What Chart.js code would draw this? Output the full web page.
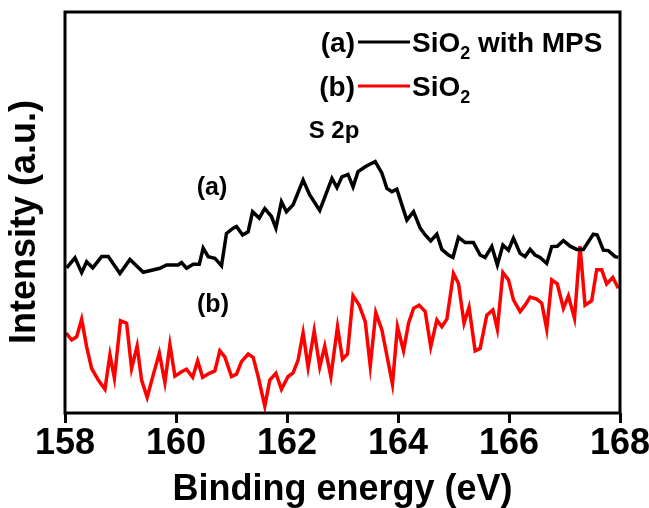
<!DOCTYPE html>
<html>
<head>
<meta charset="utf-8">
<style>
  html, body { margin: 0; padding: 0; background: #fff; }
</style>
<script src="https://cdn.jsdelivr.net/npm/chart.js@4.4.0/dist/chart.umd.min.js"></script>
</head>
<body>
<canvas id="chartXps" width="649" height="508"></canvas>
<script>
// (a) SiO2 with MPS
const energyA = [158.03,158.18,158.30,158.39,158.50,158.66,158.78,158.99,159.17,159.41,
  159.71,159.83,160.04,160.10,160.19,160.31,160.42,160.49,160.58,160.70,
  160.82,160.91,161.03,161.09,161.20,161.30,161.38,161.50,161.60,161.72,
  161.80,161.90,161.99,162.11,162.29,162.41,162.59,162.81,162.90,162.99,
  163.10,163.19,163.28,163.41,163.50,163.59,163.71,163.80,163.89,163.98,
  164.07,164.16,164.28,164.40,164.49,164.59,164.70,164.79,164.91,164.99,
  165.09,165.21,165.36,165.48,165.57,165.69,165.79,165.89,165.99,166.08,
  166.20,166.29,166.38,166.47,166.56,166.68,166.77,166.87,166.98,167.10,
  167.22,167.34,167.43,167.52,167.59,167.70,167.79,167.91,167.97];
const intensityA = [36.2,38.7,35.0,37.7,36.2,39.0,39.0,34.8,38.3,35.1,
  36.1,36.9,36.9,37.5,36.1,37.1,37.1,41.1,39.0,38.6,
  36.7,44.8,46.1,46.5,44.4,45.2,50.2,48.6,51.0,49.0,
  46.1,52.7,50.2,51.9,58.1,54.4,50.5,58.5,56.2,58.9,
  59.5,56.4,60.2,61.4,62.1,62.7,59.8,56.0,55.2,55.8,
  51.9,48.1,50.2,46.1,44.4,42.9,44.6,40.8,39.4,38.8,
  43.8,42.5,42.5,39.4,38.8,41.5,36.9,41.9,40.6,43.6,
  39.8,39.0,40.8,39.4,38.8,37.3,41.5,41.6,43.0,41.6,
  40.8,40.8,42.7,44.6,44.4,40.6,40.5,39.0,38.8];

// (b) SiO2
const energyB = [158.02,158.12,158.21,158.30,158.39,158.48,158.60,158.72,158.81,158.89,
  159.00,159.11,159.20,159.30,159.38,159.48,159.59,159.70,159.80,159.89,
  159.98,160.10,160.19,160.30,160.39,160.48,160.60,160.70,160.79,160.88,
  161.00,161.09,161.18,161.30,161.39,161.48,161.60,161.69,161.80,161.90,
  162.02,162.11,162.20,162.29,162.38,162.49,162.59,162.68,162.79,162.91,
  163.00,163.09,163.19,163.30,163.41,163.50,163.60,163.71,163.90,163.99,
  164.10,164.19,164.28,164.38,164.49,164.59,164.70,164.79,164.88,165.00,
  165.09,165.19,165.28,165.39,165.48,165.60,165.71,165.79,165.89,165.99,
  166.08,166.20,166.29,166.38,166.50,166.59,166.68,166.77,166.87,166.98,
  167.07,167.18,167.28,167.37,167.49,167.58,167.67,167.76,167.87,167.97];
const intensityB = [19.9,18.2,19.0,23.4,16.5,11.1,8.2,5.9,14.5,8.7,
  23.0,22.4,11.1,16.7,8.2,3.9,9.5,14.9,7.6,17.1,
  9.2,10.3,10.9,8.9,13.0,8.9,9.9,10.5,15.5,14.0,
  9.1,9.7,12.8,14.7,13.9,9.1,1.7,8.2,9.9,5.9,
  9.1,10.0,13.2,20.0,11.4,20.5,11.5,16.7,9.1,21.5,
  13.4,14.7,29.2,26.9,22.8,11.7,25.0,20.7,7.2,21.5,
  15.5,22.4,26.1,26.9,25.3,16.5,23.2,21.5,23.4,34.8,
  32.3,22.4,26.4,15.5,16.1,24.4,25.7,20.9,35.0,33.2,
  28.2,25.3,26.9,28.9,28.4,27.4,20.9,33.2,32.2,26.1,
  29.2,23.6,41.6,26.9,28.0,35.7,35.7,32.2,33.8,31.1];

const xTicks = [158, 160, 162, 164, 166, 168];

const FONT = '"Liberation Sans", Arial, sans-serif';

function toPoints(xs, ys) {
  return xs.map((x, i) => ({ x: x, y: ys[i] }));
}

// frame, legend and labels
const annotate = {
  id: 'annotate',
  afterDatasetsDraw(chart) {
    const ctx = chart.ctx;
    const a = chart.chartArea;
    ctx.save();
    ctx.strokeStyle = '#000';
    ctx.lineWidth = 3;
    ctx.strokeRect(a.left, a.top, a.right - a.left, a.bottom - a.top);

    ctx.fillStyle = '#000';
    ctx.textBaseline = 'middle';
    ctx.textAlign = 'center';
    ctx.font = 'bold 24px ' + FONT;
    ctx.fillText('S 2p', 334, 131);
    ctx.font = 'bold 25px ' + FONT;
    ctx.fillText('(a)', 212, 188);
    ctx.fillText('(b)', 213, 305);

    // y title
    ctx.save();
    ctx.translate(25, 222);
    ctx.rotate(-Math.PI / 2);
    ctx.font = 'bold 36px ' + FONT;
    ctx.fillText('Intensity (a.u.)', 0, 0);
    ctx.restore();

    legendRow(ctx, '(a)', '#000', 42, ' with MPS');
    legendRow(ctx, '(b)', '#ff0000', 86, '');
    ctx.restore();
  }
};

function legendRow(ctx, tag, color, y, rest) {
  ctx.textBaseline = 'alphabetic';
  ctx.fillStyle = '#000';
  ctx.font = 'bold 28px ' + FONT;
  ctx.textAlign = 'right';
  ctx.fillText(tag, 355, y + 10);
  ctx.strokeStyle = color;
  ctx.lineWidth = 3;
  ctx.beginPath();
  ctx.moveTo(358, y);
  ctx.lineTo(410, y);
  ctx.stroke();
  ctx.textAlign = 'left';
  let x = 412;
  ctx.fillText('SiO', x, y + 10);
  x += ctx.measureText('SiO').width;
  ctx.font = 'bold 18px ' + FONT;
  ctx.fillText('2', x, y + 17);
  x += ctx.measureText('2').width;
  if (rest) {
    ctx.font = 'bold 28px ' + FONT;
    ctx.fillText(rest, x, y + 10);
  }
}

new Chart(document.getElementById('chartXps'), {
  type: 'scatter',
  data: {
    datasets: [{
      label: 'SiO2 with MPS',
      data: toPoints(energyA, intensityA),
      showLine: true,
      borderColor: '#000',
      borderWidth: 3.5,
      pointRadius: 0,
      tension: 0
    }, {
      label: 'SiO2',
      data: toPoints(energyB, intensityB),
      showLine: true,
      borderColor: '#ff0000',
      borderWidth: 3.5,
      pointRadius: 0,
      tension: 0
    }]
  },
  options: {
    responsive: false,
    animation: false,
    layout: { padding: { left: 65, top: 12, right: 29, bottom: 0 } },
    scales: {
      x: {
        type: 'linear',
        min: 158,
        max: 168,
        afterBuildTicks: axis => { axis.ticks = xTicks.map(v => ({ value: v })); },
        afterFit: axis => { axis.height = 95; axis.paddingLeft = 0; axis.paddingRight = 0; },
        grid: {
          display: true,
          drawOnChartArea: false,
          drawTicks: true,
          tickLength: 10,
          tickWidth: 3,
          tickColor: '#000'
        },
        border: { display: false },
        ticks: {
          color: '#000',
          padding: 3,
          maxRotation: 0,
          autoSkip: false,
          font: { family: FONT, size: 36, weight: 'bold', lineHeight: 1 }
        },
        title: {
          display: true,
          text: 'Binding energy (eV)',
          color: '#000',
          padding: 0,
          font: { family: FONT, size: 36, weight: 'bold', lineHeight: 1 }
        }
      },
      y: {
        display: false,
        min: 0,
        max: 100
      }
    },
    plugins: {
      legend: { display: false },
      tooltip: { enabled: false }
    }
  },
  plugins: [annotate]
});
</script>
</body>
</html>
